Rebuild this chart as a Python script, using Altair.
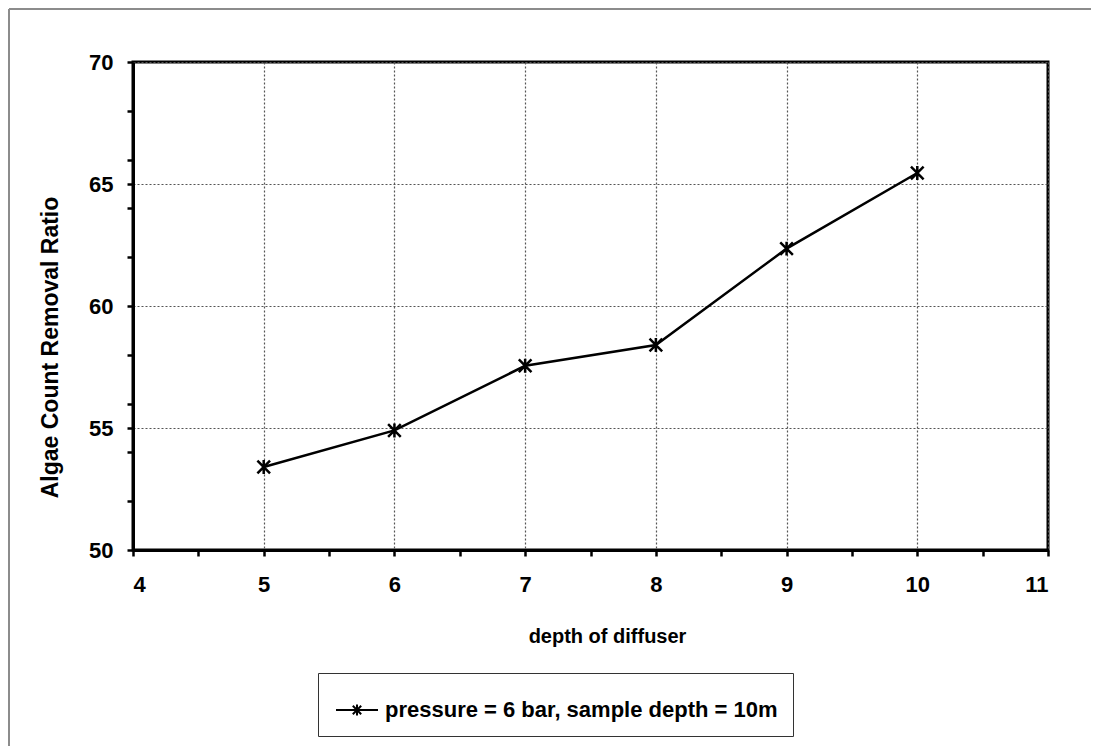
import altair as alt
import pandas as pd

# ---- data ----
depth = [5, 6, 7, 8, 9, 10]
removal_ratio = [53.4, 54.9, 57.55, 58.4, 62.35, 65.45]
series_name = "pressure = 6 bar, sample depth = 10m"

x_ticks = [4, 4.5, 5, 5.5, 6, 6.5, 7, 7.5, 8, 8.5, 9, 9.5, 10, 10.5, 11]
y_ticks = [50, 52, 54, 55, 56, 58, 60, 62, 64, 65, 66, 68, 70]

df = pd.DataFrame({"depth": depth, "ratio": removal_ratio,
                   "series": [series_name] * len(depth)})

FONT = "Liberation Sans"
STAR = "M-1,-1L1,1M-1,1L1,-1M0,-1.1L0,1.1"
LEGEND_SYMBOL = "M-1,0H1M-0.2,-0.2L0.2,0.2M-0.2,0.2L0.2,-0.2M0,-0.26V0.26"

# outer chart-area frame (decoration): top and left edges only are visible
frame_top = alt.Chart(alt.Data(values=[{}])).mark_rule(
    stroke="#8c8c8c", strokeWidth=2
).encode(x=alt.value(-124), x2=alt.value(1200), y=alt.value(-53))
frame_left = alt.Chart(alt.Data(values=[{}])).mark_rule(
    stroke="#8c8c8c", strokeWidth=2
).encode(x=alt.value(-124), y=alt.value(-53), y2=alt.value(900))

x_enc = alt.X(
    "depth:Q",
    scale=alt.Scale(domain=[4, 11], nice=False, zero=False),
    axis=alt.Axis(
        values=x_ticks,
        labelExpr="datum.value % 1 == 0 ? format(datum.value, 'd') : ''",
        title="depth of diffuser",
        titleX=474, titleY=92, titleBaseline="alphabetic", titleAlign="center",
        titleFontSize=20,
        labelPadding=18,
        gridOpacity={"condition": {"test": "datum.value % 1 != 0", "value": 0}, "value": 1},
    ),
)
y_enc = alt.Y(
    "ratio:Q",
    scale=alt.Scale(domain=[50, 70], nice=False, zero=False),
    axis=alt.Axis(
        values=y_ticks,
        labelExpr="datum.value % 5 == 0 ? format(datum.value, 'd') : ''",
        title="Algae Count Removal Ratio",
        titleAngle=-90, titleX=-76, titleY=285, titleBaseline="alphabetic",
        titleAlign="center", titleFontSize=23,
        labelPadding=14,
        gridOpacity={"condition": {"test": "datum.value % 5 != 0", "value": 0}, "value": 1},
    ),
)

line = alt.Chart(df).mark_line(
    strokeWidth=2.5,
    point=alt.OverlayMarkDef(shape=STAR, size=160, filled=False, strokeWidth=2.5),
).encode(
    x=x_enc,
    y=y_enc,
    color=alt.Color(
        "series:N",
        scale=alt.Scale(range=["black"]),
        legend=alt.Legend(
            title=None, orient="none", legendX=185, legendY=611,
            symbolType=LEGEND_SYMBOL, symbolSize=1764, symbolStrokeWidth=2,
            symbolStrokeColor="black", symbolFillColor="transparent",
            symbolOffset=2, labelOffset=6,
            labelExpr="datum.label + '\u2003'",
            labelFont=FONT, labelFontSize=22, labelFontWeight="bold", labelColor="black",
            labelLimit=0,
            strokeColor="#333333", padding=15, fillColor="white",
        ),
    ),
)

chart = alt.layer(frame_top, frame_left, line).properties(
    width=915, height=488,
    autosize=alt.AutoSizeParams(type="none"),
    padding={"left": 125, "top": 54, "right": 43, "bottom": 196},
    background="white",
).configure_view(
    stroke="black", strokeWidth=3
).configure_axis(
    labelFont=FONT, labelFontSize=22, labelFontWeight="bold", labelColor="black",
    titleFont=FONT, titleFontWeight="bold", titleColor="black",
    domainColor="black", domainWidth=3,
    tickColor="black", tickWidth=2.5, tickSize=6,
    gridColor="#555555", gridDash=[2, 2], gridWidth=1.2,
)

chart.save("out.html", embed_options={"renderer": "svg", "actions": False})
